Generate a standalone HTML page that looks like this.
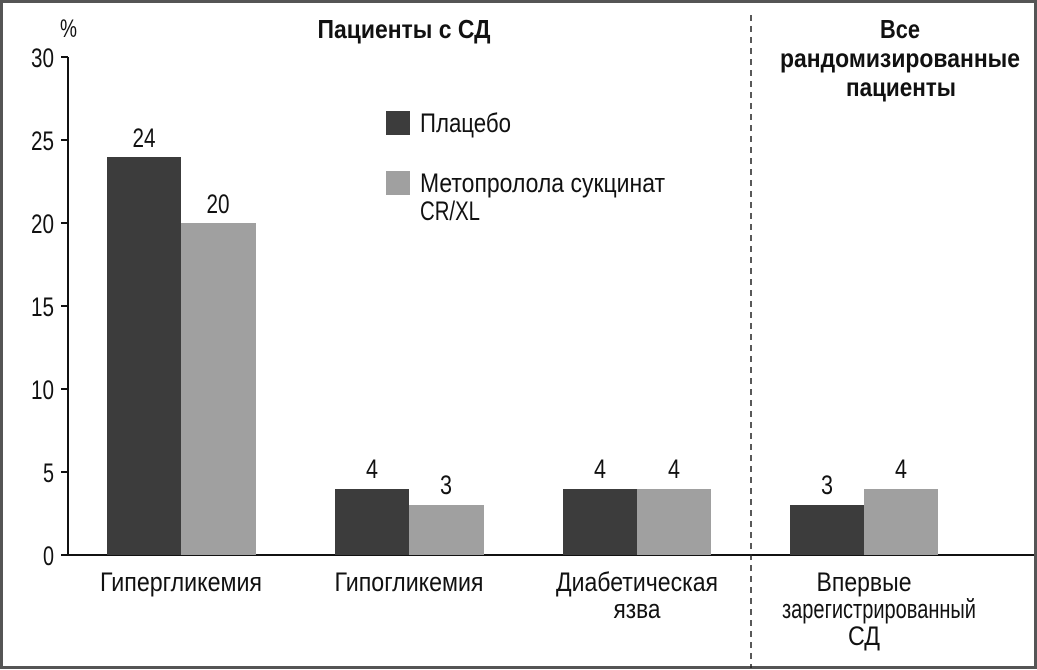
<!DOCTYPE html>
<html><head><meta charset="utf-8"><style>
html,body{margin:0;padding:0;background:#fff}
svg{display:block}
text{font-family:"Liberation Sans Narrow","Liberation Sans",sans-serif;fill:#111}
</style></head><body>
<svg width="1037" height="670" viewBox="0 0 1037 670">
<rect x="1.5" y="1.5" width="1034" height="666" fill="#fff" stroke="#555" stroke-width="3"/>
<g stroke="#111" stroke-width="2">
<line x1="68" y1="57" x2="68" y2="556"/>
<line x1="67" y1="555" x2="1034" y2="555"/>
<line x1="61" y1="57" x2="68" y2="57"/>
<line x1="61" y1="140" x2="68" y2="140"/>
<line x1="61" y1="223" x2="68" y2="223"/>
<line x1="61" y1="306" x2="68" y2="306"/>
<line x1="61" y1="389" x2="68" y2="389"/>
<line x1="61" y1="472" x2="68" y2="472"/>
<line x1="61" y1="555" x2="68" y2="555"/>
</g>
<line x1="751" y1="15" x2="751" y2="668" stroke="#222" stroke-width="1.5" stroke-dasharray="6,5"/>
<g font-size="27" text-anchor="end">
<text x="54" y="67" textLength="23" lengthAdjust="spacingAndGlyphs">30</text>
<text x="54" y="150" textLength="23" lengthAdjust="spacingAndGlyphs">25</text>
<text x="54" y="233" textLength="23" lengthAdjust="spacingAndGlyphs">20</text>
<text x="54" y="316" textLength="23" lengthAdjust="spacingAndGlyphs">15</text>
<text x="54" y="399" textLength="23" lengthAdjust="spacingAndGlyphs">10</text>
<text x="54" y="482" textLength="11" lengthAdjust="spacingAndGlyphs">5</text>
<text x="54" y="565" textLength="11" lengthAdjust="spacingAndGlyphs">0</text>
</g>
<text x="60" y="37" font-size="25" textLength="17" lengthAdjust="spacingAndGlyphs">%</text>
<g fill="#3c3c3c">
<rect x="107" y="157" width="74" height="398"/>
<rect x="335" y="489" width="74" height="66"/>
<rect x="563" y="489" width="74" height="66"/>
<rect x="790" y="505" width="74" height="50"/>
<rect x="386" y="111" width="24" height="24"/>
</g>
<g fill="#a0a0a0">
<rect x="181" y="223" width="75" height="332"/>
<rect x="409" y="505" width="75" height="50"/>
<rect x="637" y="489" width="74" height="66"/>
<rect x="864" y="489" width="74" height="66"/>
<rect x="386" y="171" width="24" height="24"/>
</g>
<g font-size="27" text-anchor="middle">
<text x="144" y="147" textLength="23" lengthAdjust="spacingAndGlyphs">24</text>
<text x="218" y="213" textLength="23" lengthAdjust="spacingAndGlyphs">20</text>
<text x="372" y="478" textLength="12" lengthAdjust="spacingAndGlyphs">4</text>
<text x="446" y="494" textLength="12" lengthAdjust="spacingAndGlyphs">3</text>
<text x="600" y="478" textLength="12" lengthAdjust="spacingAndGlyphs">4</text>
<text x="674" y="478" textLength="12" lengthAdjust="spacingAndGlyphs">4</text>
<text x="827" y="494" textLength="12" lengthAdjust="spacingAndGlyphs">3</text>
<text x="901" y="478" textLength="12" lengthAdjust="spacingAndGlyphs">4</text>
<text x="181" y="591" textLength="162" lengthAdjust="spacingAndGlyphs">Гипергликемия</text>
<text x="409" y="591" textLength="149" lengthAdjust="spacingAndGlyphs">Гипогликемия</text>
<text x="637" y="591" textLength="162" lengthAdjust="spacingAndGlyphs">Диабетическая</text>
<text x="637" y="618" textLength="47" lengthAdjust="spacingAndGlyphs">язва</text>
<text x="864" y="591" textLength="95" lengthAdjust="spacingAndGlyphs">Впервые</text>
<text x="879" y="618" textLength="194" lengthAdjust="spacingAndGlyphs">зарегистрированный</text>
<text x="864" y="645" textLength="32" lengthAdjust="spacingAndGlyphs">СД</text>
</g>
<g font-size="26" text-anchor="middle" font-weight="bold">
<text x="404" y="38" textLength="173" lengthAdjust="spacingAndGlyphs">Пациенты с СД</text>
<text x="900" y="38" textLength="40" lengthAdjust="spacingAndGlyphs">Все</text>
<text x="900" y="67" textLength="240" lengthAdjust="spacingAndGlyphs">рандомизированные</text>
<text x="901" y="96" textLength="110" lengthAdjust="spacingAndGlyphs">пациенты</text>
</g>
<g font-size="27">
<text x="420" y="132" textLength="91" lengthAdjust="spacingAndGlyphs">Плацебо</text>
<text x="420" y="192" textLength="245" lengthAdjust="spacingAndGlyphs">Метопролола сукцинат</text>
<text x="420" y="220" textLength="60" lengthAdjust="spacingAndGlyphs">CR/XL</text>
</g>
</svg>
</body></html>
